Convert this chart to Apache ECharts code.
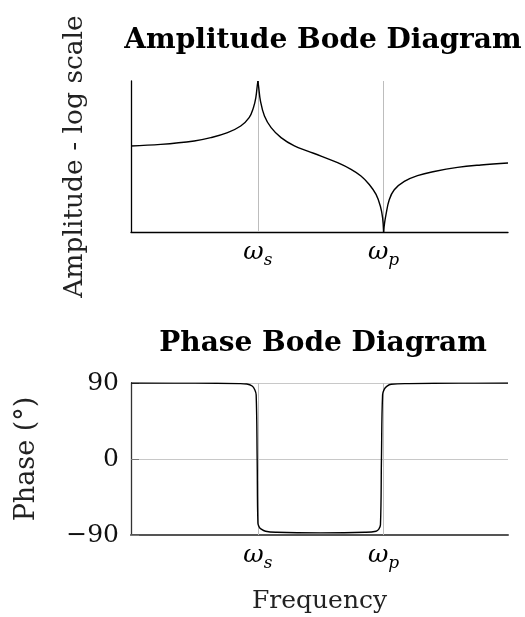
<!DOCTYPE html>
<html>
<head>
<meta charset="utf-8">
<script src="https://cdn.jsdelivr.net/npm/echarts@6/dist/echarts.min.js"></script>
<style>
  html, body { margin: 0; padding: 0; background: #fff; }
  #main { width: 525px; height: 617px; }
</style>
</head>
<body>
<div id="main"></div>
<script>
// frequency axis: omega_s sits at 1, omega_p at 2 (arbitrary log-frequency units)
const markFreqs = [1, 2]
const markNames = ['s', 'p']

// amplitude (0 = bottom of plot, 100 = top)
const ampFreq = [-0.01, 0.227, 0.493, 0.625, 0.758, 0.863, 0.93, 0.964, 0.983, 0.996, 1.0, 1.006, 1.02, 1.052, 1.105, 1.184, 1.29, 1.396, 1.502, 1.634, 1.741, 1.82, 1.886, 1.94, 1.974, 1.992, 2.0, 2.008, 2.019, 2.045, 2.085, 2.165, 2.27, 2.403, 2.588, 2.774, 2.99]
const ampValue = [57.0, 58.0, 60.3, 62.5, 65.8, 70.2, 75.7, 82.3, 88.9, 97.7, 100, 96, 86.8, 76.8, 69.1, 62.5, 57.0, 53.6, 50.3, 45.9, 41.5, 37.1, 31.5, 24.9, 17.2, 9.5, 0, 6, 11.5, 21.4, 28.0, 33.5, 37.3, 40.1, 42.8, 44.4, 45.7]

// phase in degrees
const phaseFreq = [-0.01, 0.5, 0.85, 0.912, 0.954, 0.975, 0.986, 0.994, 1.0, 1.01, 1.021, 1.061, 1.15, 1.5, 1.85, 1.94, 1.962, 1.975, 1.983, 1.992, 2.005, 2.025, 2.06, 2.2, 2.6, 2.99]
const phaseValue = [90, 89.8, 89.3, 88.8, 86.4, 82, 76, 0, -76, -80.5, -82.5, -85.5, -86.8, -87.5, -86.8, -85.5, -83, -78, 0, 76, 82.5, 86, 88.5, 89.3, 89.8, 90]
const phaseTicks = [-90, 0, 90]
const phaseTickLabels = ['−90', '0', '90']

const font = 'DejaVu Serif'
const ampData = ampFreq.map((f, i) => [f, ampValue[i]])
const phaseData = phaseFreq.map((f, i) => [f, phaseValue[i]])

// split the amplitude curve at the resonance peak and the notch so both stay sharp cusps
const ampSegments = []
let start = 0
markFreqs.forEach((f) => {
  const end = ampFreq.indexOf(f)
  ampSegments.push(ampData.slice(start, end + 1))
  start = end
})
ampSegments.push(ampData.slice(start))

const omegaLabel = (v) => {
  const i = markFreqs.indexOf(v)
  return i < 0 ? '' : '{w|ω}{s|' + markNames[i] + '}'
}
const omegaRich = {
  w: { fontFamily: font, fontStyle: 'italic', fontSize: 25, verticalAlign: 'top', color: '#000' },
  s: { fontFamily: font, fontStyle: 'italic', fontSize: 17, verticalAlign: 'top', padding: [12, 0, 0, 0], color: '#000' }
}
const gridMarks = {
  silent: true,
  symbol: 'none',
  z: 1,
  label: { show: false },
  lineStyle: { color: '#bdbdbd', width: 1, type: 'solid' },
  data: markFreqs.map((f) => ({ xAxis: f }))
}

const ampSeries = ampSegments.map((seg, i) => ({
  type: 'line', xAxisIndex: 0, yAxisIndex: 0,
  data: seg, showSymbol: false, smooth: 0.4,
  lineStyle: { color: '#000', width: 1.4 },
  markLine: i === 0 ? gridMarks : undefined
}))

const chart = echarts.init(document.getElementById('main'))
const option = {
  animation: false,
  title: [
    {
      text: 'Amplitude Bode Diagram',
      left: 318, top: 22, textAlign: 'center',
      textStyle: { fontFamily: font, fontWeight: 'bold', fontSize: 28, color: '#000' }
    },
    {
      text: 'Phase Bode Diagram',
      left: 318, top: 325, textAlign: 'center',
      textStyle: { fontFamily: font, fontWeight: 'bold', fontSize: 28, color: '#000' }
    }
  ],
  grid: [
    { left: 131, right: 17, top: 81, height: 151 },
    { left: 131, right: 17, top: 383, height: 152 }
  ],
  xAxis: [
    {
      gridIndex: 0, type: 'value', min: -0.01, max: 2.99,
      axisLine: { onZero: false, lineStyle: { color: '#000', width: 1.3 } },
      axisTick: { show: true, inside: true, length: 10, customValues: markFreqs, lineStyle: { color: '#777' } },
      axisLabel: { customValues: markFreqs, formatter: omegaLabel, rich: omegaRich, margin: 8 },
      splitLine: { show: false }
    },
    {
      gridIndex: 1, type: 'value', min: -0.01, max: 2.99,
      name: 'Frequency', nameLocation: 'middle', nameGap: 54,
      nameTextStyle: { fontFamily: font, fontSize: 25, color: '#222' },
      axisLine: { onZero: false, lineStyle: { color: '#555', width: 2 } },
      axisTick: { show: true, inside: true, length: 8, customValues: markFreqs, lineStyle: { color: '#777' } },
      axisLabel: { customValues: markFreqs, formatter: omegaLabel, rich: omegaRich, margin: 8 },
      splitLine: { show: false }
    }
  ],
  yAxis: [
    {
      gridIndex: 0, type: 'value', min: 0, max: 100,
      name: 'Amplitude - log scale', nameLocation: 'middle', nameGap: 42, nameRotate: 90,
      nameTextStyle: { fontFamily: font, fontSize: 26.5, color: '#222' },
      axisLine: { show: true, onZero: false, lineStyle: { color: '#000', width: 1.3 } },
      axisTick: { show: false },
      axisLabel: { show: false },
      splitLine: { show: false }
    },
    {
      gridIndex: 1, type: 'value', min: -90, max: 90, interval: 90,
      name: 'Phase (°)', nameLocation: 'middle', nameGap: 91, nameRotate: 90,
      nameTextStyle: { fontFamily: font, fontSize: 27, color: '#222' },
      axisLine: { show: true, onZero: false, lineStyle: { color: '#333', width: 1.3 } },
      axisTick: { show: true, inside: true, length: 8, lineStyle: { color: '#777' } },
      axisLabel: {
        fontFamily: font, fontSize: 25, color: '#111', margin: 12,
        formatter: (v) => phaseTickLabels[phaseTicks.indexOf(v)]
      },
      splitLine: { show: true, lineStyle: { color: '#c8c8c8', width: 1 } }
    }
  ],
  series: ampSeries.concat([
    {
      type: 'line', xAxisIndex: 1, yAxisIndex: 1,
      data: phaseData, showSymbol: false, smooth: 0.4,
      lineStyle: { color: '#000', width: 1.4 },
      markLine: gridMarks
    }
  ])
}
chart.setOption(option)
</script>
</body>
</html>
